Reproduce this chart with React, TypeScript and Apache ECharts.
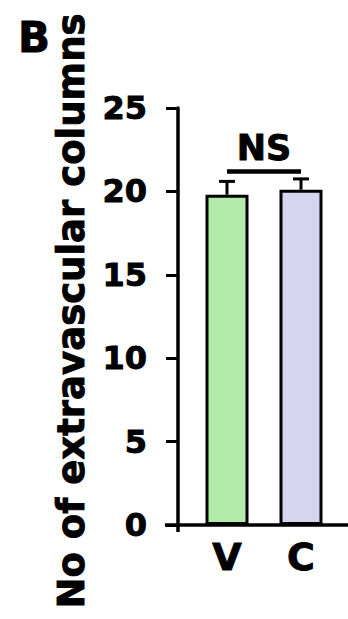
import React, { useEffect, useRef } from "react";
import * as echarts from "echarts";

// ---- data ----
const categories = ["V", "C"];
const means = [19.8, 20.1];
const errors = [0.8, 0.65];
const barColors = ["#b3ecaa", "#d5d5f0"];
const yMin = 0;
const yMax = 25;
const yInterval = 5;
const sigFrom = 0;
const sigTo = 1;
const sigLevel = 21.2;
const sigLabel = "NS";
const yTitle = "No of extravascular columns";
const panelLabel = "B";

const FONT = '"DejaVu Sans", "Liberation Sans", Arial, sans-serif';
const HEAVY = { textBorderColor: "#000", textBorderWidth: 0.9 };

export default function App() {
  const ref = useRef<HTMLDivElement>(null);

  useEffect(() => {
    if (!ref.current) return;
    const chart = echarts.init(ref.current, null, { renderer: "svg" });
    chart.setOption({
      animation: false,
      backgroundColor: "#ffffff",
      grid: { left: 190, right: 10, top: 108, bottom: 94 },
      xAxis: {
        type: "category",
        data: categories,
        axisLine: { show: false },
        axisTick: { show: false },
        axisLabel: {
          fontFamily: FONT,
          fontWeight: "bold",
          fontSize: 38,
          color: "#000",
          margin: 13,
          ...HEAVY,
        },
      },
      yAxis: {
        type: "value",
        min: yMin,
        max: yMax,
        interval: yInterval,
        offset: 12,
        axisLine: { show: true, lineStyle: { color: "#000", width: 3.5 } },
        axisTick: { show: true, length: 12, lineStyle: { color: "#000", width: 3 } },
        splitLine: { show: false },
        axisLabel: {
          fontFamily: FONT,
          fontWeight: "bold",
          fontSize: 32,
          color: "#000",
          margin: 31,
          ...HEAVY,
        },
      },
      series: [
        {
          type: "bar",
          barWidth: 43,
          data: means.map((v, i) => ({ value: v, itemStyle: { color: barColors[i] } })),
          itemStyle: { borderColor: "#000", borderWidth: 3 },
        },
        {
          type: "custom",
          z: 3,
          data: means.map((v, i) => [i, v, errors[i]]),
          renderItem: (params: any, api: any) => {
            const x = api.value(0);
            const m = api.value(1);
            const e = api.value(2);
            const p0 = api.coord([x, m]);
            const p1 = api.coord([x, m + e]);
            return {
              type: "group",
              children: [
                {
                  type: "line",
                  shape: { x1: p0[0], y1: p0[1], x2: p1[0], y2: p1[1] },
                  style: { stroke: "#000", lineWidth: 3 },
                },
                {
                  type: "line",
                  shape: { x1: p1[0] - 8, y1: p1[1], x2: p1[0] + 8, y2: p1[1] },
                  style: { stroke: "#000", lineWidth: 3 },
                },
              ],
            };
          },
        },
        {
          type: "custom",
          z: 3,
          data: [[sigFrom, sigLevel, sigTo]],
          renderItem: (params: any, api: any) => {
            const a = api.coord([api.value(0), api.value(1)]);
            const b = api.coord([api.value(2), api.value(1)]);
            return {
              type: "group",
              children: [
                {
                  type: "line",
                  shape: { x1: a[0], y1: a[1], x2: b[0], y2: b[1] },
                  style: { stroke: "#000", lineWidth: 4.5 },
                },
                {
                  type: "text",
                  style: {
                    text: sigLabel,
                    x: (a[0] + b[0]) / 2,
                    y: a[1] - 23.5,
                    align: "center",
                    verticalAlign: "middle",
                    fontFamily: FONT,
                    fontWeight: "bold",
                    fontSize: 35,
                    fill: "#000",
                    stroke: "#000",
                    lineWidth: 0.9,
                  },
                },
              ],
            };
          },
        },
      ],
      graphic: [
        {
          type: "line",
          shape: { x1: 165, y1: 525, x2: 348, y2: 525 },
          style: { stroke: "#000", lineWidth: 3.5 },
        },
        {
          type: "line",
          shape: { x1: 178, y1: 525, x2: 178, y2: 532 },
          style: { stroke: "#000", lineWidth: 3.5 },
        },
        {
          type: "text",
          x: 71,
          y: 311,
          rotation: Math.PI / 2,
          style: {
            text: yTitle,
            align: "center",
            verticalAlign: "middle",
            fontFamily: FONT,
            fontWeight: "bold",
            fontSize: 37,
            fill: "#000",
            stroke: "#000",
            lineWidth: 0.9,
          },
        },
        {
          type: "text",
          x: 34,
          y: 37.5,
          style: {
            text: panelLabel,
            align: "center",
            verticalAlign: "middle",
            fontFamily: FONT,
            fontWeight: "bold",
            fontSize: 42,
            fill: "#000",
            stroke: "#000",
            lineWidth: 0.9,
          },
        },
      ],
    });
    return () => chart.dispose();
  }, []);

  return (
    <div
      ref={ref}
      style={{ position: "fixed", left: 0, top: 0, width: 348, height: 619, background: "#fff" }}
    />
  );
}
